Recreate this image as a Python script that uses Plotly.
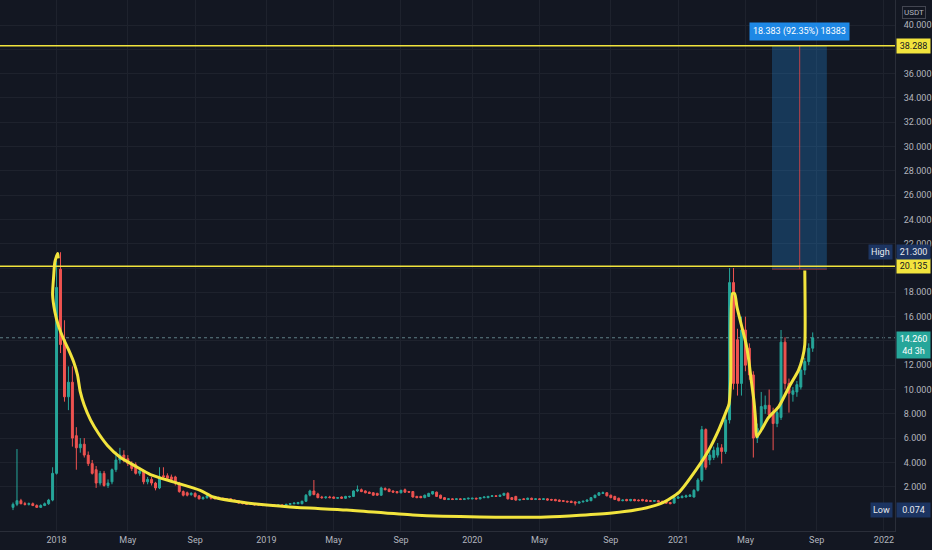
import pandas as pd
import plotly.graph_objects as go

# ---------------- data (weekly candles, price in USDT) ----------------
start_week = "2017-10-16"
opens = [0.30,0.55,0.85,0.60,0.55,0.60,0.45,0.30,0.45,0.60,
         0.90,3.10,19.90,14.10,9.40,10.60,6.20,5.20,5.50,4.60,
         3.90,3.40,2.30,3.10,2.10,2.40,3.40,4.20,4.60,4.30,
         3.90,3.80,3.10,3.30,2.40,2.60,2.30,1.90,2.90,2.90,
         2.80,2.80,2.30,1.60,1.50,1.35,1.45,1.25,1.00,1.10,
         1.25,1.15,1.10,1.05,1.00,1.00,0.90,0.85,0.70,0.65,
         0.55,0.60,0.55,0.55,0.50,0.45,0.50,0.45,0.50,0.45,
         0.55,0.60,0.60,0.60,0.80,1.30,1.65,1.40,1.15,1.10,
         1.15,1.15,1.05,1.15,1.05,1.15,1.20,1.65,1.75,1.65,
         1.55,1.50,1.45,1.30,1.85,1.80,1.65,1.60,1.50,1.75,
         1.60,1.60,1.20,1.20,1.10,1.20,1.40,1.55,1.30,1.10,
         0.95,1.00,0.95,1.00,0.95,1.00,1.00,1.05,1.00,1.10,
         1.10,1.20,1.25,1.20,1.30,1.45,1.10,1.20,0.90,1.00,
         0.95,1.05,0.95,1.00,0.95,1.00,0.95,0.95,0.90,0.85,
         0.80,0.80,0.75,0.65,0.75,0.80,0.85,1.10,1.30,1.45,
         1.50,1.30,1.20,1.05,0.85,0.95,0.85,0.95,0.90,0.95,
         0.90,0.85,0.80,0.85,0.80,0.75,0.70,0.65,1.05,1.10,
         1.15,1.20,1.15,1.70,2.55,6.70,4.20,4.40,4.60,5.20,
         4.90,7.50,18.80,14.10,10.50,14.90,13.40,11.20,6.00,6.80,
         8.40,8.70,8.10,7.20,7.70,13.90,10.50,9.60,9.80,10.20,
         11.60,12.30,13.40]
highs = [0.70,5.10,1.00,0.75,0.70,0.70,0.55,0.55,0.70,1.00,
         3.60,20.60,21.30,15.70,11.90,11.90,6.90,6.00,6.00,4.90,
         4.20,3.70,3.30,3.30,2.60,3.50,4.90,5.20,5.00,4.60,
         4.10,4.00,3.60,3.40,2.80,2.80,2.40,3.60,3.60,3.10,
         3.00,2.90,2.40,1.70,1.60,1.55,1.55,1.30,1.20,1.35,
         1.30,1.20,1.20,1.10,1.05,1.05,0.95,0.90,0.75,0.70,
         0.65,0.65,0.60,0.60,0.55,0.55,0.55,0.55,0.55,0.60,
         0.65,0.70,0.75,0.85,1.40,1.75,2.55,1.50,1.25,1.20,
         1.25,1.20,1.15,1.20,1.25,1.25,1.70,2.10,1.85,1.70,
         1.60,1.55,1.50,2.00,1.95,1.85,1.70,1.65,1.75,1.85,
         1.65,1.65,1.25,1.25,1.35,1.50,1.65,1.60,1.35,1.15,
         1.05,1.05,1.05,1.05,1.05,1.10,1.10,1.10,1.15,1.20,
         1.25,1.30,1.30,1.35,1.50,1.55,1.15,1.25,1.00,1.05,
         1.10,1.10,1.05,1.05,1.05,1.05,1.00,1.00,0.95,0.90,
         0.85,0.85,0.80,0.80,0.85,0.95,1.15,1.35,1.55,1.60,
         1.55,1.35,1.25,1.10,0.95,1.00,1.00,1.00,0.95,1.00,
         0.95,0.90,0.90,0.90,0.85,0.80,0.75,1.20,1.25,1.30,
         1.35,1.40,1.80,2.70,7.00,6.80,5.00,5.30,5.60,5.50,
         7.80,20.00,20.00,15.00,16.00,16.00,13.80,11.50,7.20,9.80,
         9.50,10.00,8.50,8.40,14.90,14.30,10.90,10.20,10.70,11.90,
         12.60,13.80,14.70]
lows = [0.074,0.40,0.55,0.45,0.45,0.40,0.25,0.25,0.40,0.50,
        0.80,3.00,13.00,9.00,8.30,5.30,3.40,4.80,4.40,3.70,
        3.00,1.90,2.10,2.00,1.90,2.20,3.20,3.90,4.00,3.70,
        3.30,3.00,2.90,2.20,2.20,2.10,1.70,1.80,2.70,2.60,
        2.50,2.10,1.50,1.20,1.20,1.25,1.10,0.95,0.95,1.00,
        0.95,0.95,0.95,0.90,0.85,0.80,0.75,0.60,0.55,0.50,
        0.50,0.45,0.45,0.40,0.40,0.40,0.40,0.40,0.40,0.40,
        0.50,0.55,0.55,0.55,0.75,1.20,1.30,1.05,1.00,1.00,
        1.05,1.00,1.00,1.00,1.00,1.10,1.15,1.55,1.55,1.45,
        1.40,1.25,1.25,1.25,1.70,1.55,1.50,1.45,1.45,1.50,
        1.50,1.10,1.05,1.05,1.05,1.15,1.35,1.15,1.00,0.90,
        0.90,0.90,0.90,0.90,0.90,0.95,0.95,0.95,0.95,1.05,
        1.05,1.15,1.15,1.15,1.25,0.95,0.90,0.85,0.85,0.90,
        0.90,0.90,0.90,0.90,0.90,0.85,0.85,0.80,0.75,0.75,
        0.70,0.65,0.45,0.60,0.70,0.75,0.80,1.05,1.25,1.40,
        1.20,1.05,0.90,0.80,0.80,0.80,0.80,0.80,0.80,0.80,
        0.75,0.75,0.75,0.70,0.65,0.60,0.55,0.60,1.00,1.05,
        1.10,1.15,1.10,1.60,2.40,3.40,3.80,4.20,4.40,3.90,
        4.70,7.20,10.00,9.50,9.50,11.50,10.80,4.40,5.60,6.50,
        8.00,7.60,5.00,6.90,7.50,10.00,8.10,9.00,9.40,10.00,
        11.20,12.00,13.10]
closes = [0.55,0.85,0.60,0.55,0.60,0.45,0.30,0.45,0.60,0.90,
          3.10,18.40,13.70,9.40,10.60,6.00,5.20,5.50,4.60,3.90,
          3.10,2.30,3.10,2.10,2.30,3.40,4.20,4.60,4.20,3.90,
          3.50,3.10,3.30,2.40,2.60,2.30,1.90,2.80,2.80,2.70,
          2.60,2.30,1.60,1.30,1.30,1.45,1.20,1.00,1.10,1.25,
          1.05,1.00,1.00,0.95,0.90,0.85,0.80,0.65,0.60,0.55,
          0.60,0.50,0.50,0.45,0.45,0.50,0.45,0.50,0.45,0.55,
          0.60,0.65,0.70,0.80,1.30,1.65,1.35,1.10,1.10,1.15,
          1.10,1.05,1.10,1.05,1.20,1.20,1.65,1.75,1.60,1.50,
          1.45,1.30,1.30,1.90,1.75,1.60,1.55,1.50,1.70,1.55,
          1.55,1.15,1.10,1.10,1.30,1.45,1.60,1.20,1.05,0.95,
          1.00,0.95,1.00,0.95,1.00,1.05,1.05,1.00,1.10,1.15,
          1.20,1.25,1.20,1.30,1.45,1.00,0.95,0.90,0.95,0.95,
          1.05,0.95,1.00,0.95,1.00,0.90,0.90,0.85,0.80,0.80,
          0.75,0.70,0.65,0.75,0.80,0.90,1.10,1.30,1.50,1.50,
          1.25,1.10,0.95,0.85,0.90,0.85,0.95,0.85,0.85,0.85,
          0.80,0.80,0.85,0.75,0.70,0.65,0.60,1.10,1.15,1.20,
          1.25,1.30,1.70,2.55,6.70,3.60,4.60,5.00,5.20,4.90,
          7.50,18.80,10.50,10.50,14.90,12.00,11.20,6.00,6.80,8.60,
          8.70,7.90,7.20,8.10,13.90,10.50,9.70,9.90,10.40,11.60,
          12.30,13.40,14.26]

# price-axis gridlines every 2; labels hidden where a price tag covers them
y_ticks = [2, 4, 6, 8, 10, 12, 14, 16, 18, 20, 22, 24, 26, 28, 30, 32, 34, 36, 38, 40, 42]
y_tick_text = ["2.000", "4.000", "6.000", "8.000", "10.000", "12.000", "", "16.000",
               "18.000", "", "22.000", "24.000", "26.000", "28.000", "30.000", "32.000",
               "34.000", "36.000", "", "40.000", "42.000"]
x_ticks = ["2018-01-01", "2018-05-07", "2018-09-03", "2019-01-07", "2019-05-06", "2019-09-02",
           "2020-01-06", "2020-05-04", "2020-09-07", "2021-01-04", "2021-05-03", "2021-09-06",
           "2022-01-03"]
x_tick_text = ["2018", "May", "Sep", "2019", "May", "Sep", "2020", "May", "Sep", "2021",
               "May", "Sep", "2022"]

level_high = 38.288
level_low = 20.135
range_bottom = 19.905
range_start, range_mid, range_end = "2021-06-19", "2021-08-07", "2021-09-24"
range_label = "18.383 (92.35%) 18383"
last_price = 14.26
ath_high = 21.30
atl_low = 0.074

cup_dates = ["2018-01-04", "2018-01-03", "2017-12-29", "2017-12-27", "2017-12-25", "2017-12-29",
             "2018-01-04", "2018-01-13", "2018-01-22", "2018-01-31", "2018-02-07", "2018-02-12",
             "2018-02-19", "2018-03-02", "2018-03-16", "2018-04-01", "2018-04-24", "2018-05-20",
             "2018-06-16", "2018-07-26", "2018-09-12", "2018-10-05", "2018-12-04", "2019-02-18",
             "2019-05-29", "2019-09-23", "2020-01-19", "2020-05-16", "2020-09-09", "2020-11-08",
             "2020-12-07", "2021-01-06", "2021-02-05", "2021-02-27", "2021-03-17", "2021-03-31",
             "2021-04-04", "2021-04-07", "2021-04-10", "2021-04-14", "2021-04-18", "2021-04-27",
             "2021-05-04", "2021-05-09", "2021-05-14", "2021-05-18", "2021-05-21", "2021-05-23",
             "2021-06-13", "2021-07-01", "2021-07-19", "2021-08-05", "2021-08-12", "2021-08-16",
             "2021-08-16"]
cup_vals = [20.8, 21.2, 20.5, 19.4, 17.8, 16.4,
            15.3, 14.2, 13.3, 12.3, 11.2, 9.8,
            8.7, 7.5, 6.4, 5.4, 4.4, 3.7,
            3.0, 2.4, 1.7, 1.15, 0.66, 0.33,
            0.08, -0.33, -0.49, -0.49, -0.16, 0.25,
            0.66, 1.56, 3.4, 5.0, 6.7, 8.3,
            8.8, 10.8, 17.9, 17.9, 16.8, 15.1,
            13.8, 12.4, 10.5, 9.1, 7.5, 6.1,
            7.7, 8.6, 10.2, 11.6, 12.6, 13.7,
            19.8]

BG = "#131722"
GRID = "#1e222d"
TXT = "#b2b5be"
UP = "#26a69a"
DOWN = "#ef5350"
YEL = "#f2e43d"
FONT = "Roboto, sans-serif"
FS = 9

dates = pd.date_range(start_week, periods=len(opens), freq="7D")

fig = go.Figure()
fig.add_trace(go.Candlestick(
    x=dates, open=opens, high=highs, low=lows, close=closes,
    increasing=dict(line=dict(color=UP, width=1), fillcolor=UP),
    decreasing=dict(line=dict(color=DOWN, width=1), fillcolor=DOWN),
    whiskerwidth=0, showlegend=False, hoverinfo="skip"))

fig.add_trace(go.Scatter(
    x=cup_dates, y=cup_vals, mode="lines",
    line=dict(color=YEL, width=3, shape="spline", smoothing=0.6),
    showlegend=False, hoverinfo="skip"))

shapes = [
    dict(type="rect", xref="x", yref="y", x0=range_start, x1=range_end,
         y0=range_bottom, y1=level_high, fillcolor="rgba(33,150,243,0.26)",
         line=dict(width=0), layer="above"),
    dict(type="line", xref="x", yref="y", x0=range_start, x1=range_end,
         y0=range_bottom, y1=range_bottom, line=dict(color="rgba(200,60,60,0.7)", width=1),
         layer="above"),
    dict(type="line", xref="x", yref="y", x0=range_mid, x1=range_mid,
         y0=range_bottom, y1=level_high, line=dict(color="rgba(230,70,70,0.8)", width=1),
         layer="above"),
    dict(type="line", xref="paper", yref="y", x0=0, x1=1, y0=level_high, y1=level_high,
         line=dict(color=YEL, width=1.5), layer="above"),
    dict(type="line", xref="paper", yref="y", x0=0, x1=1, y0=level_low, y1=level_low,
         line=dict(color=YEL, width=1.5), layer="above"),
    dict(type="line", xref="paper", yref="y", x0=0, x1=1, y0=last_price, y1=last_price,
         line=dict(color="#5f7f86", width=1, dash="dot"), layer="below"),
]

annos = []
def tag(y, text, bg, fg, yanchor="middle", yshift=0):
    annos.append(dict(xref="paper", yref="y", x=1, y=y, xanchor="left", yanchor=yanchor,
                      xshift=1, yshift=yshift, text=text, showarrow=False,
                      bgcolor=bg, font=dict(color=fg, size=FS, family=FONT),
                      borderpad=2, width=29, align="center"))

tag(level_high, "38.288", YEL, "#131722")
tag(level_low, "20.135", YEL, "#131722")
tag(ath_high, "21.300", "#1c3461", "#e8eaf0")
tag(atl_low, "0.074", "#1c3461", "#e8eaf0")
tag(last_price, "14.260<br>4d 3h", UP, "#ffffff", yanchor="top", yshift=7)
for y, t in [(ath_high, "High"), (atl_low, "Low")]:
    annos.append(dict(xref="paper", yref="y", x=1, y=y, xanchor="right", yanchor="middle",
                      xshift=-2, text=t, showarrow=False, bgcolor="#1c3461",
                      font=dict(color="#e8eaf0", size=FS, family=FONT), borderpad=2))
annos.append(dict(xref="x", yref="y", x=range_mid, y=39.5, text=range_label,
                  showarrow=False, bgcolor="#1e88e5", borderpad=3,
                  font=dict(color="#ffffff", size=FS, family=FONT)))
annos.append(dict(xref="paper", yref="paper", x=1, y=1, xanchor="left", yanchor="top",
                  xshift=7, yshift=-6, text="USDT", showarrow=False,
                  bordercolor="#434651", borderwidth=1, borderpad=1,
                  font=dict(color=TXT, size=8, family=FONT)))

fig.update_layout(
    width=932, height=550,
    margin=dict(l=0, r=37, t=0, b=19, autoexpand=False),
    paper_bgcolor=BG, plot_bgcolor=BG,
    shapes=shapes, annotations=annos,
    showlegend=False,
    xaxis=dict(type="date", range=["2017-09-23", "2022-01-22 12:00"],
               rangeslider=dict(visible=False), automargin=False,
               tickvals=x_ticks, ticktext=x_tick_text,
               tickfont=dict(color=TXT, size=FS, family=FONT),
               showgrid=True, gridcolor=GRID, gridwidth=1,
               showline=True, linecolor="#2a2e39", zeroline=False, ticks=""),
    yaxis=dict(side="right", range=[-1.646, 42.06], automargin=False,
               tickvals=y_ticks, ticktext=y_tick_text,
               tickfont=dict(color=TXT, size=FS, family=FONT),
               showgrid=True, gridcolor=GRID, gridwidth=1,
               showline=True, linecolor="#2a2e39", zeroline=False, ticks="",
               ticklabelstandoff=6),
)

fig.write_html("out.html", config={"displayModeBar": False},
               post_script="document.body.style.margin='0';document.body.style.background='#131722';")
